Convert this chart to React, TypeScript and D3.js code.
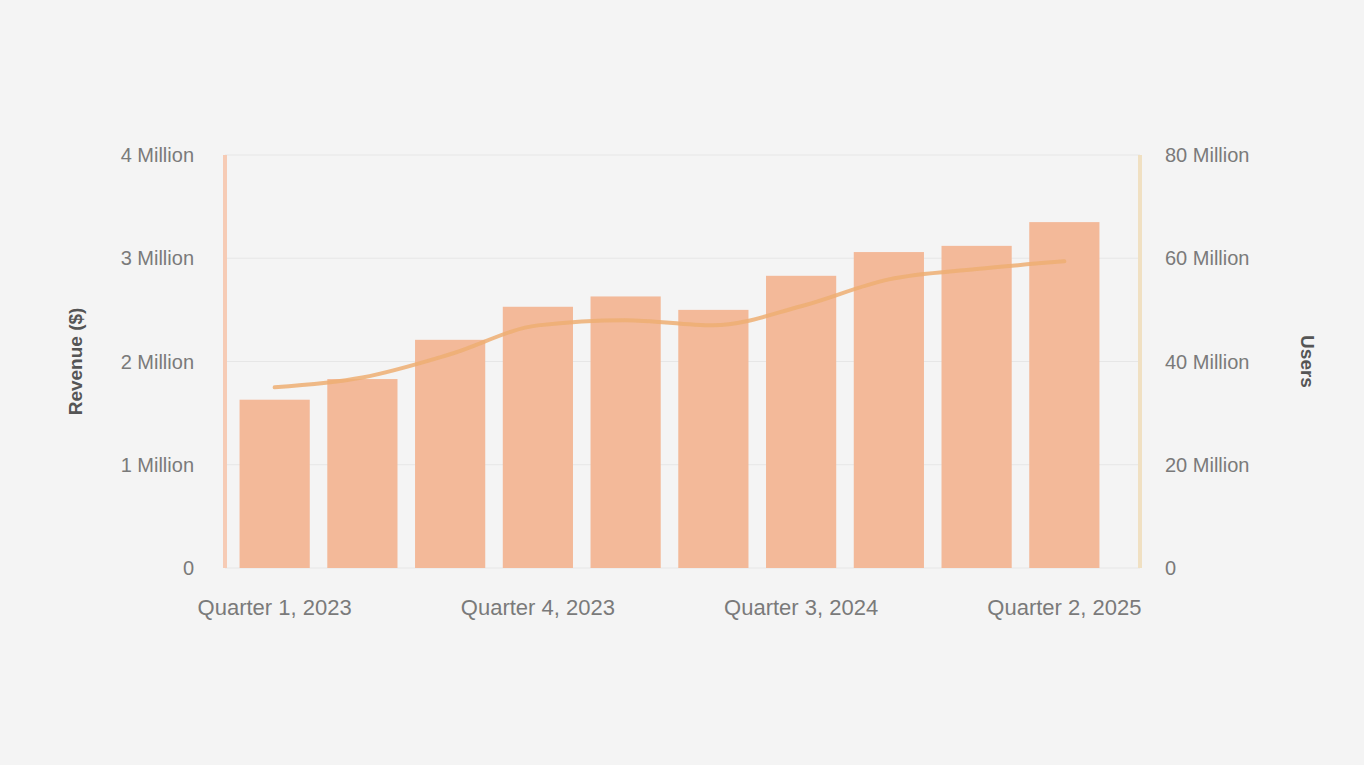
import React, { useRef, useEffect } from 'react';
import * as d3 from 'd3';

const quarters = [
  'Quarter 1, 2023', 'Quarter 2, 2023', 'Quarter 3, 2023', 'Quarter 4, 2023',
  'Quarter 1, 2024', 'Quarter 2, 2024', 'Quarter 3, 2024', 'Quarter 4, 2024',
  'Quarter 1, 2025', 'Quarter 2, 2025',
];
const shownLabels = ['Quarter 1, 2023', 'Quarter 4, 2023', 'Quarter 3, 2024', 'Quarter 2, 2025'];
const revenue = [1.63e6, 1.83e6, 2.21e6, 2.53e6, 2.63e6, 2.5e6, 2.83e6, 3.06e6, 3.12e6, 3.35e6];
const users = [35.0e6, 36.9e6, 41.4e6, 47.0e6, 48.0e6, 47.0e6, 50.7e6, 55.9e6, 57.9e6, 59.4e6];
const leftTicks = [0, 1e6, 2e6, 3e6, 4e6];
const rightTicks = [0, 20e6, 40e6, 60e6, 80e6];

const W = 1364;
const H = 765;

const fmt = (v: number) => (v === 0 ? '0' : `${v / 1e6} Million`);

export default function App() {
  const svgRef = useRef<SVGSVGElement>(null);

  useEffect(() => {
    if (!svgRef.current) return;
    const svg = d3.select(svgRef.current);
    svg.selectAll('*').remove();

    const left = 225, right = 1140, top = 155, bottom = 568;
    const font = 'Helvetica, Arial, sans-serif';

    const x = d3.scaleBand<string>().domain(quarters).range([222, 1117]).padding(0.2);
    const yL = d3.scaleLinear().domain([0, 4e6]).range([bottom, top]);
    const yR = d3.scaleLinear().domain([0, 80e6]).range([bottom, top]);

    svg.append('rect').attr('width', W).attr('height', H).attr('fill', '#f4f4f4');

    // grid
    svg.append('g')
      .selectAll('line')
      .data(leftTicks)
      .join('line')
      .attr('x1', left).attr('x2', right)
      .attr('y1', d => yL(d)).attr('y2', d => yL(d))
      .attr('stroke', '#e6e6e6')
      .attr('stroke-width', 1);

    // bars
    svg.append('g')
      .selectAll('rect')
      .data(revenue)
      .join('rect')
      .attr('x', (_, i) => x(quarters[i])!)
      .attr('width', x.bandwidth())
      .attr('y', d => yL(d))
      .attr('height', d => bottom - yL(d))
      .attr('fill', '#f3b999');

    // line
    const line = d3.line<number>()
      .x((_, i) => x(quarters[i])! + x.bandwidth() / 2)
      .y(d => yR(d))
      .curve(d3.curveMonotoneX);

    svg.append('path')
      .datum(users)
      .attr('fill', 'none')
      .attr('stroke', '#edae72')
      .attr('stroke-width', 4)
      .attr('stroke-opacity', 0.85)
      .attr('stroke-linecap', 'round')
      .attr('d', line);

    // axis lines
    svg.append('line')
      .attr('x1', left).attr('x2', left).attr('y1', top).attr('y2', bottom)
      .attr('stroke', '#f6cbb5').attr('stroke-width', 4);
    svg.append('line')
      .attr('x1', right).attr('x2', right).attr('y1', top).attr('y2', bottom)
      .attr('stroke', '#f0e0c2').attr('stroke-width', 4);

    // tick labels
    svg.append('g')
      .selectAll('text')
      .data(leftTicks)
      .join('text')
      .attr('x', 194)
      .attr('y', d => yL(d))
      .attr('dy', '0.35em')
      .attr('text-anchor', 'end')
      .attr('font-family', font)
      .attr('font-size', 20)
      .attr('fill', '#7a7a7a')
      .text(d => fmt(d));

    svg.append('g')
      .selectAll('text')
      .data(rightTicks)
      .join('text')
      .attr('x', 1165)
      .attr('y', d => yR(d))
      .attr('dy', '0.35em')
      .attr('text-anchor', 'start')
      .attr('font-family', font)
      .attr('font-size', 20)
      .attr('fill', '#7a7a7a')
      .text(d => fmt(d));

    svg.append('g')
      .selectAll('text')
      .data(shownLabels)
      .join('text')
      .attr('x', d => x(d)! + x.bandwidth() / 2)
      .attr('y', 615)
      .attr('text-anchor', 'middle')
      .attr('font-family', font)
      .attr('font-size', 22)
      .attr('fill', '#7a7a7a')
      .text(d => d);

    // axis titles
    svg.append('text')
      .attr('transform', `translate(75,${(top + bottom) / 2}) rotate(-90)`)
      .attr('dy', '0.35em')
      .attr('text-anchor', 'middle')
      .attr('font-family', font)
      .attr('font-size', 19)
      .attr('font-weight', 'bold')
      .attr('fill', '#555')
      .text('Revenue ($)');

    svg.append('text')
      .attr('transform', `translate(1308,${(top + bottom) / 2}) rotate(90)`)
      .attr('dy', '0.35em')
      .attr('text-anchor', 'middle')
      .attr('font-family', font)
      .attr('font-size', 19)
      .attr('font-weight', 'bold')
      .attr('fill', '#555')
      .text('Users');
  }, []);

  return (
    <div style={{ position: 'fixed', left: 0, top: 0, width: W, height: H, background: '#f4f4f4' }}>
      <svg ref={svgRef} width={W} height={H} style={{ display: 'block' }}></svg>
    </div>
  );
}
